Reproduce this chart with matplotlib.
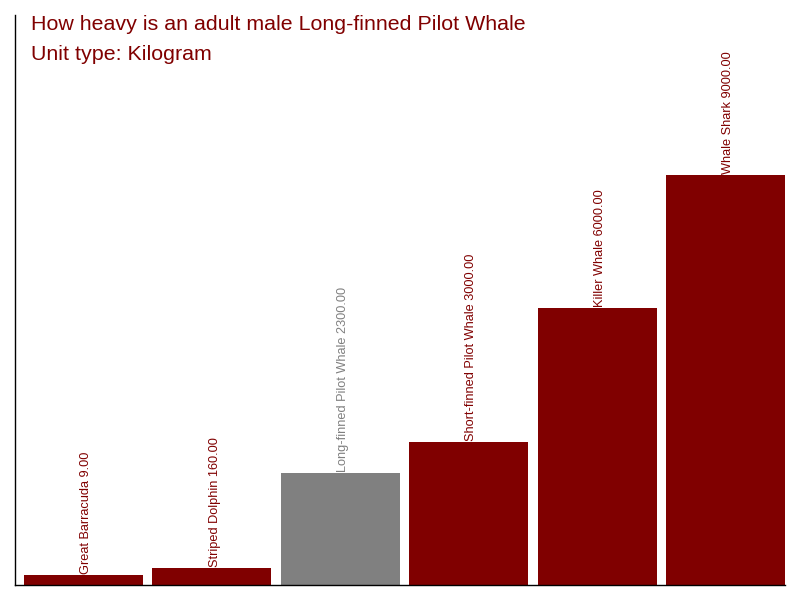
import matplotlib
matplotlib.use("Agg")
import matplotlib.pyplot as plt

categories = ["Great Barracuda", "Striped Dolphin", "Long-finned Pilot Whale",
              "Short-finned Pilot Whale", "Killer Whale", "Whale Shark"]
values = [9, 160, 2300, 3000, 6000, 9000]
highlight = "Long-finned Pilot Whale"

plt.rcParams['font.family'] = ['Liberation Sans', 'DejaVu Sans']

fig = plt.figure(figsize=(8, 6), dpi=100)
ax = fig.add_axes([15/800, 15/600, 770/800, 570/600])

ymin, ymax = -216, 12595
red = "#800000"
gray = "#808080"
xs = list(range(len(categories)))
colors = [gray if c == highlight else red for c in categories]
ax.bar(xs, [v - ymin for v in values], bottom=ymin, width=0.927, color=colors)

for x, c, v, col in zip(xs, categories, values, colors):
    ax.annotate(f"{c} {v:.2f}", (x, v), xytext=(2, 1), textcoords="offset points",
                rotation=90, ha="center", va="bottom", fontsize=9.2, color=col)

ax.set_xlim(-0.534, 5.4635)
ax.set_ylim(ymin, ymax)
ax.set_xticks([])
ax.set_yticks([])
for s in ["top", "right"]:
    ax.spines[s].set_visible(False)
for s in ["left", "bottom"]:
    ax.spines[s].set_color("black")
    ax.spines[s].set_linewidth(1)

fig.text(31/800, 1 - 29.5/600, "How heavy is an adult male Long-finned Pilot Whale",
         fontsize=15.4, color=red, va="baseline", ha="left")
fig.text(31/800, 1 - 60/600, "Unit type: Kilogram",
         fontsize=15.4, color=red, va="baseline", ha="left")

fig.savefig("out.png", dpi=100)
